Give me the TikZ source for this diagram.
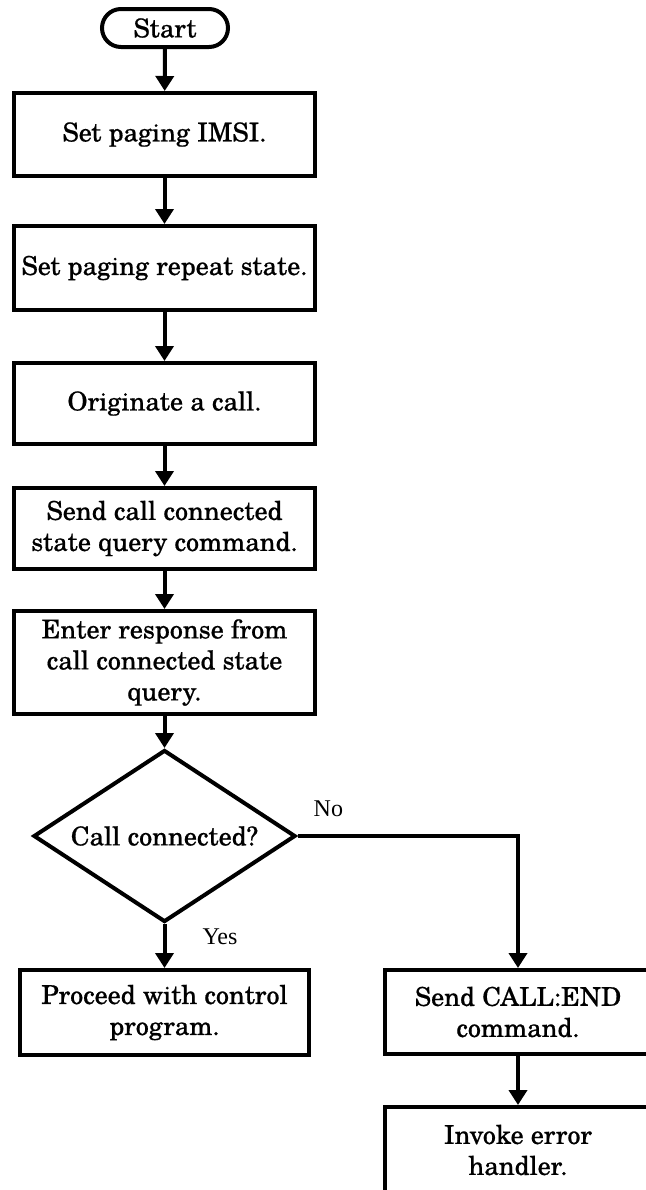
\documentclass[tikz,border=0pt]{standalone}
\usepackage{fontspec}
\setmainfont{TeX Gyre Schola}[UprightFeatures={FakeBold=0.6}]
\newfontfamily\labelfont{Liberation Serif}
\usetikzlibrary{arrows.meta,shapes.geometric}

\begin{document}
\begin{tikzpicture}[x=1bp, y=-1bp,
    box/.style={draw, line width=4bp, minimum width=300bp, inner sep=2bp, align=center, font=\fontsize{26bp}{31bp}\selectfont},
    flow/.style={line width=4bp, -{Triangle[length=15bp,width=18bp]}},
    lbl/.style={inner sep=0pt, font=\labelfont\fontsize{24bp}{28bp}\selectfont}]
  \useasboundingbox (0,0) rectangle (646,1190);
  \node[box, rounded corners=19bp, minimum width=126bp, minimum height=38bp] (start) at (165,28) {Start};
  \node[box, minimum height=83bp] (imsi) at (164.5,134.5) {Set paging IMSI.};
  \node[box, minimum height=84bp] (repeat) at (164.5,268) {Set paging repeat state.};
  \node[box, minimum height=81bp] (orig) at (164.5,403.5) {Originate a call.};
  \node[box, minimum height=81bp] (query) at (164.5,528.5) {Send call connected\\state query command.};
  \node[box, minimum height=103bp] (resp) at (164.5,662.5) {Enter response from\\call connected state\\query.};
  \node[box, diamond, aspect=1.5, minimum width=262bp, minimum height=172bp] (dec) at (164.5,836) {Call connected?};
  \node[box, minimum width=288bp, minimum height=85bp] (proceed) at (164.5,1012.5) {Proceed with control\\program.};
  \node[box, minimum width=267bp, minimum height=84bp] (endcall) at (518,1012) {Send CALL:END\\command.};
  \node[box, minimum width=267bp, minimum height=86bp] (err) at (518,1150) {Invoke error\\handler.};

  \draw[flow] (start) -- (imsi);
  \draw[flow] (imsi) -- (repeat);
  \draw[flow] (repeat) -- (orig);
  \draw[flow] (orig) -- (query);
  \draw[flow] (query) -- (resp);
  \draw[flow] (resp) -- (dec);
  \draw[flow] (dec.south) -- node[lbl, pos=0.3, right=36bp] (yes) {Yes} (proceed.north);
  \draw[flow] (dec.east) -| node[lbl, pos=0.07, above=17bp] (no) {No} (endcall.north);
  \draw[flow] (endcall) -- (err);
\end{tikzpicture}
\end{document}
